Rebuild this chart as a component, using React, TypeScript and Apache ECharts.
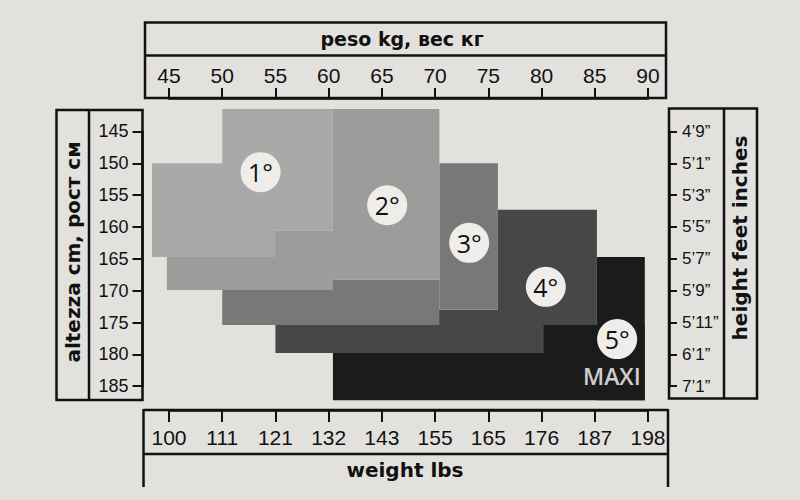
import React, { useEffect, useRef } from "react";
import * as echarts from "echarts";

// Tick labels
const kgMin = 45;
const kgMax = 90;
const cmMin = 145;
const cmMax = 185;
const lbsLabels = ["100", "111", "121", "132", "143", "155", "165", "176", "187", "198"];
const feetLabels = ["4’9”", "5’1”", "5’3”", "5’5”", "5’7”", "5’9”", "5’11”", "6’1”", "7’1”"];

// Sizes: each size is a lower-left block and an upper-right block (kg range, cm range)
const sizeLabels = ["1°", "2°", "3°", "4°", "5°"];
const lowerBlockKg = [[43.4, 55], [44.8, 60.4], [50, 70.4], [55, 80.2], [60.4, 89.7]];
const lowerBlockCm = [[150, 164.7], [160.6, 169.9], [168.3, 175.4], [173, 179.8], [175.4, 187.2]];
const upperBlockKg = [[50, 60.4], [60.4, 70.4], [70.4, 75.9], [75.9, 85.2], [85.2, 89.7]];
const upperBlockCm = [[141.5, 160.6], [141.5, 168.3], [150, 173], [157.3, 175.4], [164.7, 187.2]];
const sizeColors = ["#a9a9a8", "#9c9c9b", "#787878", "#474747", "#1b1b1b"];

// Size badges (kg, cm)
const badgeKg = [53.6, 65.5, 73.2, 80.4, 87.1];
const badgeCm = [151.4, 156.6, 162.5, 169.4, 177.6];
const maxiLabel = "MAXI";
const maxiPoint = [86.6, 183.4];

const BG = "#e2e1de";
const INK = "#111111";
const SANS = "'Liberation Sans', Arial, Helvetica, sans-serif";

export default function App() {
  const ref = useRef<HTMLDivElement>(null);

  useEffect(() => {
    if (!ref.current) return;
    const chart = echarts.init(ref.current, undefined, { renderer: "svg" });

    const blockSeries = [4, 3, 2, 1, 0].map((k) => ({
      type: "custom",
      name: sizeLabels[k],
      xAxisIndex: 0,
      yAxisIndex: 0,
      clip: false,
      silent: true,
      encode: { x: [0, 1], y: [2, 3] },
      data: [
        [lowerBlockKg[k][0], lowerBlockKg[k][1], lowerBlockCm[k][0], lowerBlockCm[k][1]],
        [upperBlockKg[k][0], upperBlockKg[k][1], upperBlockCm[k][0], upperBlockCm[k][1]],
      ],
      renderItem: (params: any, api: any) => {
        const p0 = api.coord([api.value(0), api.value(2)]);
        const p1 = api.coord([api.value(1), api.value(3)]);
        return {
          type: "rect",
          shape: {
            x: Math.min(p0[0], p1[0]),
            y: Math.min(p0[1], p1[1]),
            width: Math.abs(p1[0] - p0[0]),
            height: Math.abs(p1[1] - p0[1]),
          },
          style: { fill: sizeColors[k] },
        };
      },
    }));

    const lineStyle = { color: INK, width: 2.5 };

    const option: any = {
      animation: false,
      backgroundColor: BG,
      grid: { left: 169, right: 152, top: 131.4, bottom: 113.8, containLabel: false },
      xAxis: [
        {
          type: "value",
          position: "top",
          min: kgMin,
          max: kgMax,
          interval: 5,
          offset: 33.4,
          axisLine: { show: true, lineStyle },
          axisTick: { show: true, length: 10, lineStyle: { color: INK, width: 2 } },
          axisLabel: { color: INK, fontSize: 21, fontFamily: SANS, margin: 12 },
          splitLine: { show: false },
        },
        {
          type: "value",
          position: "bottom",
          min: kgMin,
          max: kgMax,
          interval: 5,
          offset: 23.8,
          axisLine: { show: true, lineStyle },
          axisTick: { show: true, length: 12, lineStyle: { color: INK, width: 2 } },
          axisLabel: {
            color: INK,
            fontSize: 21,
            fontFamily: SANS,
            margin: 17,
            formatter: (v: number) => lbsLabels[Math.round((v - kgMin) / 5)] ?? "",
          },
          splitLine: { show: false },
        },
      ],
      yAxis: [
        {
          type: "value",
          position: "left",
          inverse: true,
          min: cmMin,
          max: cmMax,
          interval: 5,
          offset: 26.5,
          axisLine: { show: true, lineStyle },
          axisTick: { show: true, length: 10, lineStyle: { color: INK, width: 2 } },
          axisLabel: { color: INK, fontSize: 18, fontFamily: SANS, margin: 14 },
          splitLine: { show: false },
        },
        {
          type: "value",
          position: "right",
          inverse: true,
          min: cmMin,
          max: cmMax,
          interval: 5,
          offset: 21,
          axisLine: { show: true, lineStyle },
          axisTick: { show: true, length: 8, lineStyle: { color: INK, width: 2 } },
          axisLabel: {
            color: INK,
            fontSize: 17,
            fontFamily: SANS,
            margin: 13,
            formatter: (v: number) => feetLabels[Math.round((v - cmMin) / 5)] ?? "",
          },
          splitLine: { show: false },
        },
      ],
      series: [
        ...blockSeries,
        {
          type: "scatter",
          xAxisIndex: 0,
          yAxisIndex: 0,
          z: 10,
          silent: true,
          symbol: "circle",
          symbolSize: 40,
          itemStyle: { color: "#eeede9", opacity: 1 },
          data: badgeKg.map((x, i) => [x, badgeCm[i]]),
          label: {
            show: true,
            position: "inside",
            formatter: (p: any) => sizeLabels[p.dataIndex],
            color: "#111",
            fontSize: 25,
            fontFamily: "'Open Sans', 'Noto Sans', sans-serif",
          },
        },
        {
          type: "scatter",
          xAxisIndex: 0,
          yAxisIndex: 0,
          z: 10,
          silent: true,
          symbolSize: 0,
          data: [maxiPoint],
          label: {
            show: true,
            position: "inside",
            formatter: () => maxiLabel,
            color: "#ffffff",
            fontSize: 23,
            fontWeight: 600,
            fontFamily: "'Open Sans', 'Noto Sans', sans-serif",
          },
        },
      ],
      graphic: [
        // top box
        { type: "rect", shape: { x: 145, y: 22.5, width: 521, height: 75.5 }, style: { fill: "none", stroke: INK, lineWidth: 2.5 }, z: 20 },
        { type: "line", shape: { x1: 145, y1: 55.5, x2: 666, y2: 55.5 }, style: { stroke: INK, lineWidth: 2.5 }, z: 20 },
        // bottom box
        { type: "line", shape: { x1: 143.5, y1: 410, x2: 668, y2: 410 }, style: { stroke: INK, lineWidth: 2.5 }, z: 20 },
        { type: "line", shape: { x1: 143.5, y1: 454, x2: 668, y2: 454 }, style: { stroke: INK, lineWidth: 2.5 }, z: 20 },
        { type: "line", shape: { x1: 143.5, y1: 409, x2: 143.5, y2: 487 }, style: { stroke: INK, lineWidth: 2.5 }, z: 20 },
        { type: "line", shape: { x1: 668, y1: 409, x2: 668, y2: 487 }, style: { stroke: INK, lineWidth: 2.5 }, z: 20 },
        // left box
        { type: "rect", shape: { x: 56.5, y: 110, width: 86, height: 290 }, style: { fill: "none", stroke: INK, lineWidth: 2.5 }, z: 20 },
        { type: "line", shape: { x1: 89, y1: 110, x2: 89, y2: 400 }, style: { stroke: INK, lineWidth: 2.5 }, z: 20 },
        // right box
        { type: "rect", shape: { x: 669, y: 108.5, width: 88, height: 290 }, style: { fill: "none", stroke: INK, lineWidth: 2.5 }, z: 20 },
        { type: "line", shape: { x1: 724, y1: 108.5, x2: 724, y2: 398.5 }, style: { stroke: INK, lineWidth: 2.5 }, z: 20 },
        // titles
        {
          type: "text", x: 402, y: 39, z: 20,
          style: { text: "peso kg, вес кг", fill: INK, font: "bold 19px 'DejaVu Sans', sans-serif", align: "center", verticalAlign: "middle" },
        },
        {
          type: "text", x: 405, y: 470, z: 20,
          style: { text: "weight lbs", fill: INK, font: "bold 20px 'DejaVu Sans', sans-serif", align: "center", verticalAlign: "middle" },
        },
        {
          type: "text", x: 73, y: 252, rotation: Math.PI / 2, z: 20,
          style: { text: "altezza cm, рост см", fill: INK, font: "bold 20px 'DejaVu Sans', sans-serif", align: "center", verticalAlign: "middle" },
        },
        {
          type: "text", x: 740, y: 238, rotation: Math.PI / 2, z: 20,
          style: { text: "height feet inches", fill: INK, font: "bold 20px 'DejaVu Sans', sans-serif", align: "center", verticalAlign: "middle" },
        },
      ],
    };

    chart.setOption(option);
    return () => chart.dispose();
  }, []);

  return (
    <div
      ref={ref}
      style={{ position: "fixed", left: 0, top: 0, width: 800, height: 500 }}
    />
  );
}
